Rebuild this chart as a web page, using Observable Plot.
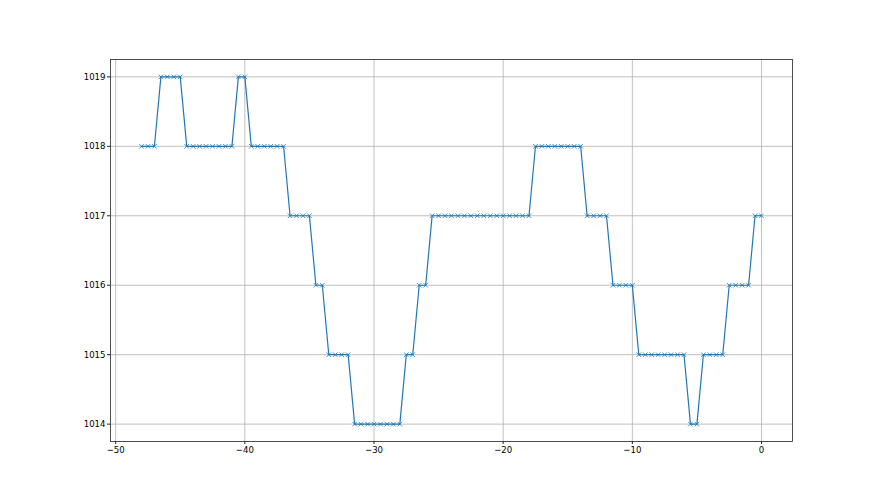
<!DOCTYPE html>
<html>
<head>
<meta charset="utf-8">
<script src="https://cdn.jsdelivr.net/npm/d3@7"></script>
<script src="https://cdn.jsdelivr.net/npm/@observablehq/plot@0.6"></script>
<style>
  html, body { margin: 0; padding: 0; background: #fff; }
  #chart svg { display: block; }
</style>
</head>
<body>
<div id="chart"></div>
<script>
// Pressure readings (hPa), sampled every 0.5 h from -48 to 0
const xStart = -48;
const xStep = 0.5;
const pressure = [
  1018, 1018, 1018,
  1019, 1019, 1019, 1019,
  1018, 1018, 1018, 1018, 1018, 1018, 1018, 1018,
  1019, 1019,
  1018, 1018, 1018, 1018, 1018, 1018,
  1017, 1017, 1017, 1017,
  1016, 1016,
  1015, 1015, 1015, 1015,
  1014, 1014, 1014, 1014, 1014, 1014, 1014, 1014,
  1015, 1015,
  1016, 1016,
  1017, 1017, 1017, 1017, 1017, 1017, 1017, 1017, 1017, 1017, 1017, 1017, 1017, 1017, 1017, 1017,
  1018, 1018, 1018, 1018, 1018, 1018, 1018, 1018,
  1017, 1017, 1017, 1017,
  1016, 1016, 1016, 1016,
  1015, 1015, 1015, 1015, 1015, 1015, 1015, 1015,
  1014, 1014,
  1015, 1015, 1015, 1015,
  1016, 1016, 1016, 1016,
  1017, 1017
];
const xTicks = [-50, -40, -30, -20, -10, 0];
const yTicks = [1014, 1015, 1016, 1017, 1018, 1019];

const data = pressure.map((p, i) => ({x: xStart + i * xStep, y: p}));
const minus = d => d < 0 ? "\u2212" + Math.abs(d) : String(d);
const plain = d => String(d);

const chart = Plot.plot({
  width: 880,
  height: 495,
  marginLeft: 110,
  marginRight: 88,
  marginTop: 59,
  marginBottom: 54,
  style: {fontFamily: "'Liberation Sans Narrow', 'DejaVu Sans Condensed', 'DejaVu Sans', sans-serif", fontSize: "9.5px", color: "#000", background: "#fff"},
  x: {domain: [-50.4, 2.4], label: null},
  y: {domain: [1013.75, 1019.25], label: null},
  marks: [
    Plot.gridX(xTicks, {stroke: "#b0b0b0", strokeOpacity: 1, strokeWidth: 0.8}),
    Plot.gridY(yTicks, {stroke: "#b0b0b0", strokeOpacity: 1, strokeWidth: 0.8}),
    Plot.line(data, {x: "x", y: "y", stroke: "#1f77b4", strokeWidth: 1.2}),
    Plot.dot(data, {x: "x", y: "y", symbol: "times", r: 2.2, stroke: "#1f77b4", strokeWidth: 0.8}),
    Plot.frame({stroke: "#222", strokeWidth: 0.8}),
    Plot.axisX(xTicks, {tickSize: 3, tickPadding: 2, tickFormat: minus, stroke: "#222", fill: "#000", label: null}),
    Plot.axisY(yTicks, {tickSize: 3, tickPadding: 2, tickFormat: plain, stroke: "#222", fill: "#000", label: null})
  ]
});
document.getElementById("chart").appendChild(chart);
</script>
</body>
</html>
